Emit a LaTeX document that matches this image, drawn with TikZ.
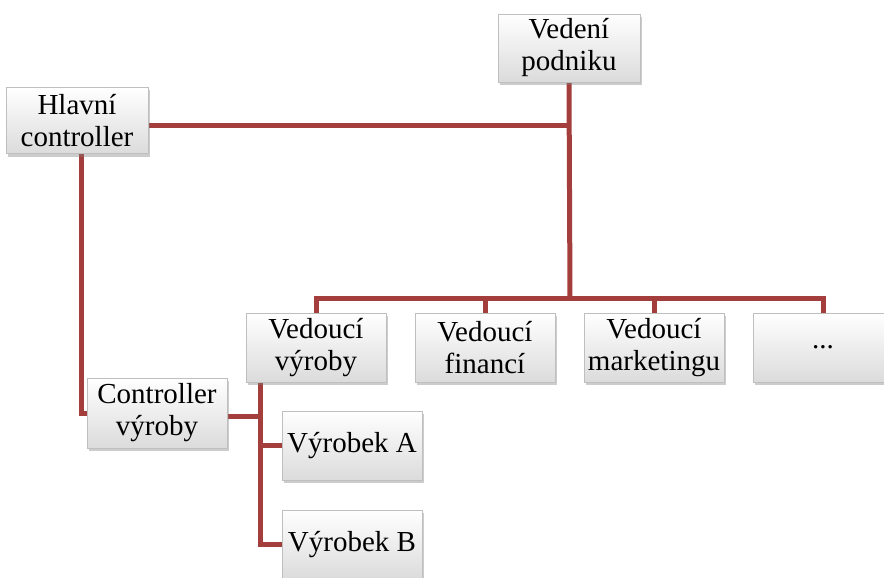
\documentclass[tikz,border=0pt]{standalone}
\usepackage{fontspec}
\setmainfont{Liberation Serif}
\usetikzlibrary{shadows,backgrounds}
\definecolor{linkred}{RGB}{163,62,61}
\begin{document}
\begin{tikzpicture}[x=1pt,y=-1pt,
  box/.style={rectangle, draw=gray!50, line width=0.7pt, top color=white, bottom color=gray!28,
    minimum width=140pt, minimum height=68pt, inner sep=1pt, align=center,
    font=\fontsize{29}{32}\selectfont,
    drop shadow={shadow xshift=2pt, shadow yshift=-3pt, opacity=0.4, fill=gray}},
  link/.style={draw=linkred, line width=5pt}]
\useasboundingbox (0,0) rectangle (884,578);
\node[box, minimum width=142pt] (vp) at (569,48) {Vedení\\podniku};
\node[box, minimum width=142pt, minimum height=66pt] (hc) at (77,120.5) {Hlavní\\controller};
\node[box, minimum height=69pt] (vv) at (316,347.5) {Vedoucí\\výroby};
\node[box, minimum height=69pt] (vf) at (485,347.5) {Vedoucí\\financí};
\node[box, minimum height=69pt] (vm) at (654,347.5) {Vedoucí\\marketingu};
\node[box, minimum height=69pt] (vd) at (823,347.5) {...};
\node[box, minimum height=70pt] (cv) at (157,413) {Controller\\výroby};
\node[box, minimum height=69pt] (va) at (352,445.5) {Výrobek A};
\node[box, minimum height=69pt] (vb) at (352,544.5) {Výrobek B};
\coordinate (bus) at (570,298);
\coordinate (vvs) at ([xshift=15pt]vv.south west);
\coordinate (hcs) at ([xshift=4pt]hc.south);
\coordinate (hce) at ([yshift=-4.5pt]hc.east);
\coordinate (cve) at ([yshift=-3pt]cv.east);
\begin{scope}[on background layer]
\draw[link] (vp.south) -- (bus);
\draw[link] (hce) -- (vp.south |- hce);
\draw[link] (vv.north) |- (bus) -| (vd.north);
\draw[link] (vf.north) -- (vf.north |- bus);
\draw[link] (vm.north) -- (vm.north |- bus);
\draw[link] (hcs) |- (cv.west);
\draw[link] (vvs) |- (vb.west);
\draw[link] (vvs |- va.west) -- (va.west);
\draw[link] (cve) -- (vvs |- cve);
\end{scope}
\end{tikzpicture}
\end{document}
